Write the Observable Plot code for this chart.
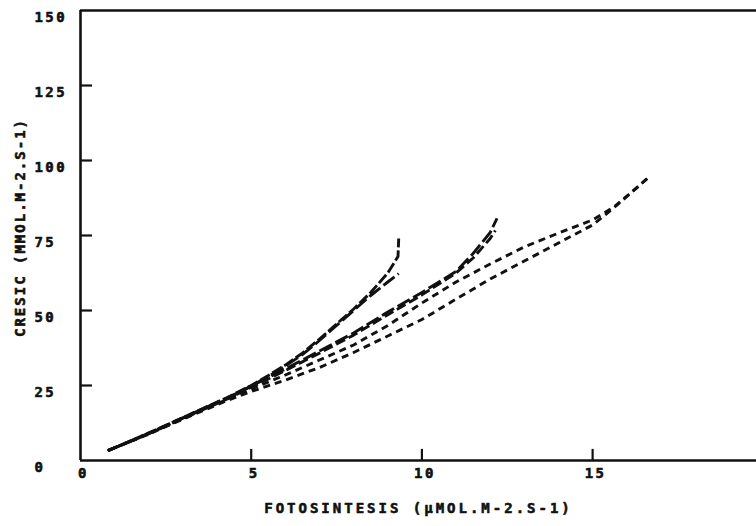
<!DOCTYPE html>
<html>
<head>
<meta charset="utf-8">
<script src="https://cdn.jsdelivr.net/npm/d3@7"></script>
<script src="https://cdn.jsdelivr.net/npm/@observablehq/plot@0.6"></script>
<style>
  html, body { margin: 0; padding: 0; background: #fff; }
  svg text { font-family: "DejaVu Sans Mono", monospace; font-weight: bold; }
</style>
</head>
<body>
<div id="chart"></div>
<script>
// ---- data ----
const xTitle = "FOTOSINTESIS (µMOL.M-2.S-1)";
const yTitle = "CRESIC (MMOL.M-2.S-1)";
const xTickLabels = [0, 5, 10, 15];
const xTicks = [5, 10, 15];
const yTickLabels = [0, 25, 50, 75, 100, 125, 150];
const yTicks = [25, 50, 75, 100, 125];

const seriesA_x = [0.8, 1.5, 2, 2.8, 3.5, 4.3, 5, 5.6, 6, 6.5, 7, 7.5, 8, 8.5, 9, 9.3, 9.32];
const seriesA_y = [3.3, 6.7, 9.2, 13.3, 16.9, 21, 25, 29, 31.8, 35.8, 40.5, 45.5, 50.5, 56, 62.5, 68, 74];
const seriesB_x = [0.8, 1.5, 2, 2.8, 3.5, 4.3, 5, 5.6, 6, 6.5, 7, 7.5, 8, 8.5, 9, 9.32];
const seriesB_y = [3.3, 6.6, 9.1, 13.2, 16.8, 20.9, 24.8, 28.7, 31.5, 35.3, 40, 45, 50, 55, 59.5, 62.3];
const seriesC1_x = [0.8, 1.5, 2, 2.8, 3.5, 4.3, 5, 6, 7, 8, 9, 10, 11, 11.5, 12, 12.2];
const seriesC1_y = [3.3, 6.6, 9, 13.1, 16.6, 20.7, 24.8, 30.5, 36.5, 42.5, 49.5, 56, 63, 69, 76, 80.7];
const seriesC2_x = [0.8, 1.5, 2, 2.8, 3.5, 4.3, 5, 6, 7, 8, 9, 10, 11, 11.5, 12, 12.15];
const seriesC2_y = [3.3, 6.5, 8.9, 13, 16.5, 20.5, 24.4, 30, 35.8, 41.8, 48.6, 55.2, 62.5, 67.5, 74, 76.7];
const seriesD_x = [0.8, 1.5, 2, 2.8, 3.5, 4.3, 5, 6, 7, 8, 9, 10, 11, 12, 13, 14, 15, 15.6, 16.1, 16.6];
const seriesD_y = [3.3, 6.6, 9, 13, 16.5, 20.4, 23.8, 28.5, 33.5, 38.5, 45, 52.5, 59.5, 65.5, 71.2, 75.8, 80.2, 84.3, 89, 94];
const seriesE_x = [0.8, 1.5, 2, 2.8, 3.5, 4.3, 5, 6, 7, 8, 9, 10, 11, 12, 13, 14, 15, 15.6, 16.1, 16.6];
const seriesE_y = [3.3, 6.5, 8.8, 12.8, 16.2, 20, 23, 26.8, 31, 36, 41.5, 47, 53.8, 60.5, 66.5, 72.5, 78.5, 84, 89, 94];

const toPts = (xs, ys) => xs.map((x, i) => ({x, y: ys[i]}));
const series = [
  {pts: toPts(seriesA_x, seriesA_y), dash: "11,3"},
  {pts: toPts(seriesB_x, seriesB_y), dash: "14,4"},
  {pts: toPts(seriesC1_x, seriesC1_y), dash: "14,4"},
  {pts: toPts(seriesC2_x, seriesC2_y), dash: "10,4"},
  {pts: toPts(seriesD_x, seriesD_y), dash: "7,5"},
  {pts: toPts(seriesE_x, seriesE_y), dash: "7,5"}
];

const ink = "#111";
const textOpts = {fill: ink, stroke: ink, strokeWidth: 0.6, fontWeight: "bold", fontSize: 14};

const chart = Plot.plot({
  width: 756,
  height: 526,
  marginLeft: 80,
  marginRight: 0,
  marginTop: 10,
  marginBottom: 66,
  x: {domain: [0, 19.8], axis: null},
  y: {domain: [0, 150], axis: null},
  style: {
    fontFamily: "'DejaVu Sans Mono', monospace",
    fontSize: "14px",
    letterSpacing: "2.4px",
    background: "#fff",
    color: ink
  },
  marks: [
    // frame: left, bottom, top
    Plot.ruleX([0], {stroke: ink, strokeWidth: 2.6}),
    Plot.ruleY([0, 150], {stroke: ink, strokeWidth: 2.6}),
    // inward ticks
    Plot.ruleX(xTicks, {x: d => d, y1: 0, y2: 3.7, stroke: ink, strokeWidth: 2.2}),
    Plot.ruleY(yTicks, {y: d => d, x1: 0, x2: 0.35, stroke: ink, strokeWidth: 2.2}),
    // tick labels
    Plot.text(xTickLabels, {x: d => d, y: 0, text: d => String(d), dy: 13, dx: 3, textAnchor: "middle", ...textOpts}),
    Plot.text(yTickLabels, {y: d => d, x: 0, text: d => String(d), dx: -46, dy: 7, textAnchor: "start", ...textOpts}),
    // axis titles
    Plot.text([xTitle], {frameAnchor: "bottom", text: d => d, dy: 52, textAnchor: "middle", ...textOpts}),
    Plot.text([yTitle], {frameAnchor: "left", text: d => d, rotate: -90, dx: -60, dy: -8, textAnchor: "middle", ...textOpts}),
    // curves
    ...series.map(s => Plot.line(s.pts, {
      x: "x", y: "y", stroke: ink, strokeWidth: 2.9,
      strokeDasharray: s.dash, strokeLinecap: "butt", strokeLinejoin: "round", curve: "linear"
    }))
  ]
});
document.getElementById("chart").appendChild(chart);
// letter spacing for the titles
d3.select(chart).selectAll("text").each(function() {
  const t = this.textContent;
  if (t === xTitle) this.style.letterSpacing = "3px";
  if (t === yTitle) this.style.letterSpacing = "2px";
});
</script>
</body>
</html>
